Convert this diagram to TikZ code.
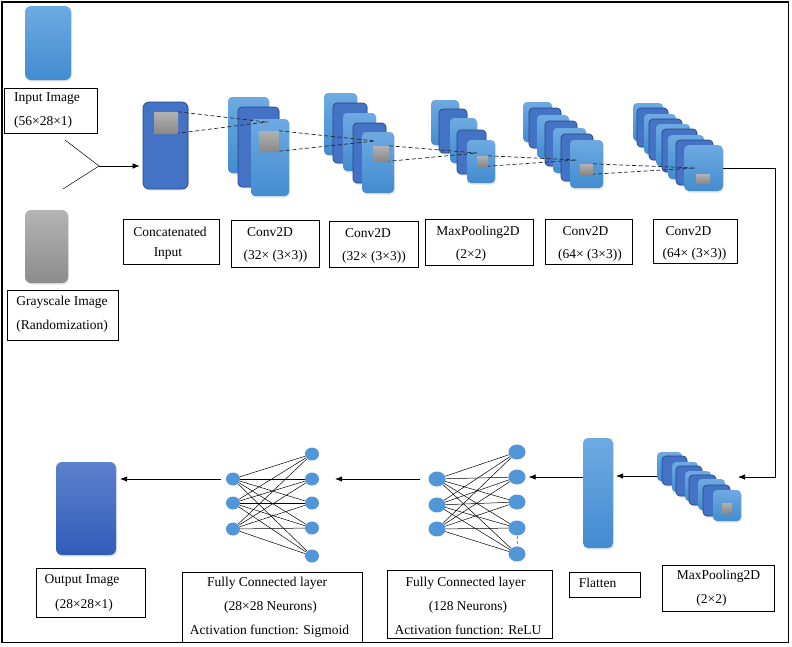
\documentclass[tikz,border=0pt]{standalone}
\usepackage{fontspec}
\setmainfont{Liberation Serif}
\usetikzlibrary{shapes.geometric,arrows.meta,shadows}

\definecolor{lightTop}{RGB}{110,170,226}
\definecolor{lightBot}{RGB}{66,140,208}
\definecolor{darkFill}{RGB}{68,114,196}
\definecolor{darkEdge}{RGB}{38,70,135}
\definecolor{grayTop}{RGB}{180,180,180}
\definecolor{grayBot}{RGB}{140,140,140}
\definecolor{outTop}{RGB}{92,130,205}
\definecolor{outBot}{RGB}{48,92,185}
\definecolor{kerTop}{RGB}{178,178,178}
\definecolor{kerBot}{RGB}{138,138,138}
\definecolor{neuronBlue}{RGB}{82,150,218}

\tikzset{
  softshadow/.style={drop shadow={opacity=0.22, shadow xshift=1pt, shadow yshift=-1.5pt}},
  tile/.style={rectangle, rounded corners=6pt, draw=none, inner sep=0pt, softshadow},
  lightlayer/.style={rounded corners=4pt, top color=lightTop, bottom color=lightBot, draw=none, softshadow},
  darklayer/.style={rounded corners=4pt, fill=darkFill, draw=darkEdge, line width=0.7pt, softshadow},
  kernel/.style={rectangle, top color=kerTop, bottom color=kerBot, draw=none, inner sep=0pt, softshadow},
  labelbox/.style={rectangle, draw, line width=0.7pt, inner sep=0pt},
  lbl/.style={inner sep=0pt},
  proj/.style={dash pattern=on 4pt off 2.5pt, line width=0.7pt, black!85},
  flow/.style={-{Latex[length=7pt,width=5.5pt]}, line width=0.6pt},
  bigneuron/.style={ellipse, fill=neuronBlue, minimum width=17pt, minimum height=15pt, inner sep=0pt},
  smallneuron/.style={ellipse, fill=neuronBlue, minimum width=14pt, minimum height=13pt, inner sep=0pt},
  wire/.style={line width=0.5pt, black},
}

\begin{document}
\begin{tikzpicture}[x=1pt, y=-1pt, font=\fontsize{13.5}{15}\selectfont]
\useasboundingbox (0,0) rectangle (792,646);
\draw[line width=1.4pt] (2,2) rectangle (788.5,642.5);

% ---------------- inputs ----------------
\node[tile, top color=lightTop, bottom color=lightBot, minimum width=46pt, minimum height=74pt] (inimg) at (48,43) {};
\node[labelbox, minimum width=93pt, minimum height=45pt] (inlbl) at (50.5,110.5) {};
\node[lbl, anchor=west] (inlblA) at (14,99) {Input Image};
\node[lbl, anchor=west] (inlblB) at (14,122) {(56×28×1)};

\node[tile, top color=grayTop, bottom color=grayBot, minimum width=43pt, minimum height=73pt] (grayimg) at (46.5,246.5) {};
\node[labelbox, minimum width=111pt, minimum height=50pt] (graylbl) at (62.5,315) {};
\node[lbl] (graylblA) at (62,302) {Grayscale Image};
\node[lbl] (graylblB) at (62,326) {(Randomization)};

% merge of the two inputs
\coordinate (ya) at (65,140);
\coordinate (yb) at (63,189);
\coordinate (yj) at (99,166);
\draw[wire] (ya) -- (yj) -- (yb);

% ---------------- concatenated input ----------------
\node[rectangle, rounded corners=6pt, fill=darkFill, draw=darkEdge, line width=0.7pt, softshadow,
      minimum width=45pt, minimum height=87pt, inner sep=0pt] (concat) at (165.5,145.5) {};
\node[kernel, minimum width=24pt, minimum height=21pt] (k0) at (166,122.5) {};
\draw[flow, shorten >=3pt] (yj) -- (concat.west |- yj);

% ---------------- feature map stacks ----------------
% Conv2D 32 (first)
\foreach \xa/\ya/\w/\h/\st in {228/97/41/76/lightlayer, 238/107/41/80/darklayer, 251/119/38/77/lightlayer}
  \draw[\st] (\xa,\ya) rectangle ++(\w,\h);
\node[kernel, minimum width=20pt, minimum height=20pt] (k1) at (269,141) {};

% Conv2D 32 (second)
\foreach \xa/\ya/\w/\h/\st in {324/93/33/62/lightlayer, 333/103/34/60/darklayer, 343/113/33/58/lightlayer,
                                353/123/33/60/darklayer, 362/132/32/61/lightlayer}
  \draw[\st] (\xa,\ya) rectangle ++(\w,\h);
\node[kernel, minimum width=16pt, minimum height=15pt] (k2) at (381,153.5) {};

% MaxPooling2D
\foreach \xa/\ya/\w/\h/\st in {431/100/28/45/lightlayer, 439/109/28/44/darklayer, 450/118/27/45/lightlayer,
                                457/130/29/44/darklayer, 467/140/28/43/lightlayer}
  \draw[\st] (\xa,\ya) rectangle ++(\w,\h);
\node[kernel, minimum width=11pt, minimum height=10pt] (k3) at (482.5,161) {};

% Conv2D 64 (first)
\foreach \xa/\ya/\w/\h/\st in {523/102/29/40/lightlayer, 529/108/32/40/darklayer, 537/115/32/43/lightlayer,
                                545/121/32/45/darklayer, 553/128/33/45/lightlayer, 561/134/32/47/darklayer,
                                570/140/33/48/lightlayer}
  \draw[\st] (\xa,\ya) rectangle ++(\w,\h);
\node[kernel, minimum width=13pt, minimum height=10pt] (k4) at (586.5,169) {};

% Conv2D 64 (second)
\foreach \xa/\ya/\w/\h/\st in {633/103/30/38/lightlayer, 637/108/31/39/darklayer, 644/114/32/40/lightlayer,
                                649/119/33/41/darklayer, 656/124/34/42/lightlayer, 662/129/35/43/darklayer,
                                668/135/36/44/lightlayer, 676/140/37/45/darklayer}
  \draw[\st] (\xa,\ya) rectangle ++(\w,\h);
\node[rectangle, rounded corners=5pt, top color=lightTop, bottom color=lightBot, softshadow,
      minimum width=39pt, minimum height=46pt, inner sep=0pt] (c4front) at (703.5,168) {};
\node[kernel, minimum width=14pt, minimum height=9pt] (k5) at (703,178.5) {};

% projections of the kernels
\coordinate (p1) at (266,122);
\coordinate (p2) at (375,141);
\coordinate (p3) at (477,153);
\coordinate (p4) at (577,160);
\coordinate (p5) at (695,168);
\draw[proj] (k0.north east) -- (p1) -- (k0.south east);
\draw[proj] (k1.north east) -- (p2) -- (k1.south east);
\draw[proj] (k2.north east) -- (p3) -- (k2.south east);
\draw[proj] (k3.north east) -- (p4) -- (k3.south east);
\draw[proj] (k4.north east) -- (p5) -- (k4.south east);

% ---------------- upper labels ----------------
\node[labelbox, minimum width=96pt, minimum height=45pt] (concatlbl) at (171,241.5) {};
\node[lbl] (concatlblA) at (170,232) {Concatenated};
\node[lbl] (concatlblB) at (168,254) {Input};

\node[labelbox, minimum width=88pt, minimum height=47pt] (c1lbl) at (275,243.5) {};
\node[lbl] (c1lblA) at (270,232) {Conv2D};
\node[lbl] (c1lblB) at (275.5,256) {(32× (3×3))};

\node[labelbox, minimum width=89pt, minimum height=46pt] (c2lbl) at (373.5,244) {};
\node[lbl] (c2lblA) at (368,233) {Conv2D};
\node[lbl] (c2lblB) at (374,257) {(32× (3×3))};

\node[labelbox, minimum width=108pt, minimum height=46pt] (mplbl) at (479,242) {};
\node[lbl] (mplblA) at (478,232) {MaxPooling2D};
\node[lbl] (mplblB) at (471,255) {(2×2)};

\node[labelbox, minimum width=87pt, minimum height=45pt] (c3lbl) at (588.5,241.5) {};
\node[lbl] (c3lblA) at (585.5,231) {Conv2D};
\node[lbl] (c3lblB) at (590,255) {(64× (3×3))};

\node[labelbox, minimum width=84pt, minimum height=44pt] (c4lbl) at (695,241) {};
\node[lbl] (c4lblA) at (688.5,231) {Conv2D};
\node[lbl] (c4lblB) at (694.5,254) {(64× (3×3))};

% ---------------- lower row ----------------
% MaxPooling2D
\foreach \xa/\ya/\w/\h/\st in {657/452/25/29/lightlayer, 662/456/25/29/darklayer, 672/462/26/30/lightlayer,
                                676/466/26/30/darklayer, 685/471/26/30/lightlayer, 689/475/27/30/darklayer,
                                698/479/27/31/lightlayer, 703/485/27/31/darklayer}
  \draw[\st] (\xa,\ya) rectangle ++(\w,\h);
\node[rectangle, rounded corners=4pt, top color=lightTop, bottom color=lightBot, softshadow,
      minimum width=28pt, minimum height=31pt, inner sep=0pt] (mp2front) at (727,505.5) {};
\node[kernel, minimum width=10pt, minimum height=10pt] (k6) at (727,508) {};

% link from the upper row down to the lower row
\coordinate (c4out) at (c4front.east);
\coordinate (turnA) at (775,168);
\coordinate (turnB) at (775,477);
\coordinate (mp2tip) at (738,477);
\draw[flow] (c4out) -- (turnA) -- (turnB) -- (mp2tip);

% Flatten
\node[tile, top color=lightTop, bottom color=lightBot, rounded corners=5pt,
      minimum width=30pt, minimum height=110pt] (flat) at (598,493) {};
\coordinate (mp2in) at (657,476);
\draw[flow, shorten >=3pt] (mp2in) -- (flat.east |- mp2in);

% Fully connected 128
\foreach \i/\y in {1/479, 2/505, 3/529}
  \node[bigneuron] (fa\i) at (437,\y) {};
\foreach \j/\y in {1/452, 2/477, 3/502, 4/528, 5/554}
  \node[bigneuron] (fb\j) at (517,\y) {};
\foreach \i in {1,2,3}
  \foreach \j in {1,...,5}
    \draw[wire] (fa\i) -- (fb\j);
\draw[neuronBlue, densely dashed, line width=0.4pt] (fb4) -- (fb5);
\draw[flow, shorten >=3pt] (flat.west |- fb2) -- (fb2.east);

% Fully connected 28x28
\foreach \i/\y in {1/479, 2/503, 3/529}
  \node[smallneuron] (ga\i) at (233,\y) {};
\foreach \j/\y in {1/454, 2/479, 3/503, 4/528, 5/556}
  \node[smallneuron] (gb\j) at (312,\y) {};
\foreach \i in {1,2,3}
  \foreach \j in {1,...,5}
    \draw[wire] (ga\i) -- (gb\j);
\draw[flow, shorten <=8pt, shorten >=16pt] (fa1.west) -- (gb2.east);

% Output image
\node[tile, top color=outTop, bottom color=outBot, minimum width=60pt, minimum height=93pt] (outimg) at (86,508.5) {};
\draw[flow, shorten <=5pt, shorten >=4pt] (ga1.west) -- (outimg.east |- ga1);

% ---------------- lower labels ----------------
\node[labelbox, minimum width=109pt, minimum height=49pt] (outlbl) at (90.5,592.5) {};
\node[lbl] (outlblA) at (82,580) {Output Image};
\node[lbl] (outlblB) at (84,605) {(28×28×1)};

\node[labelbox, minimum width=180pt, minimum height=70pt] (fc2lbl) at (272,607) {};
\node[lbl] (fc2lblA) at (267,583) {Fully Connected layer};
\node[lbl] (fc2lblB) at (270.5,607) {(28×28 Neurons)};
\node[lbl] (fc2lblC) at (269.5,631) {Activation function: Sigmoid};

\node[labelbox, minimum width=165pt, minimum height=68pt] (fc1lbl) at (469.5,604) {};
\node[lbl] (fc1lblA) at (465.5,583) {Fully Connected layer};
\node[lbl] (fc1lblB) at (468,607) {(128 Neurons)};
\node[lbl] (fc1lblC) at (468,630) {Activation function: ReLU};

\node[labelbox, minimum width=71pt, minimum height=25pt] (flatlbl) at (604.5,584.5) {};
\node[lbl] (flatlblA) at (597.5,583) {Flatten};

\node[labelbox, minimum width=112pt, minimum height=46pt] (mp2lbl) at (718,588) {};
\node[lbl] (mp2lblA) at (718.5,576) {MaxPooling2D};
\node[lbl] (mp2lblB) at (711.5,600) {(2×2)};
\end{tikzpicture}
\end{document}
